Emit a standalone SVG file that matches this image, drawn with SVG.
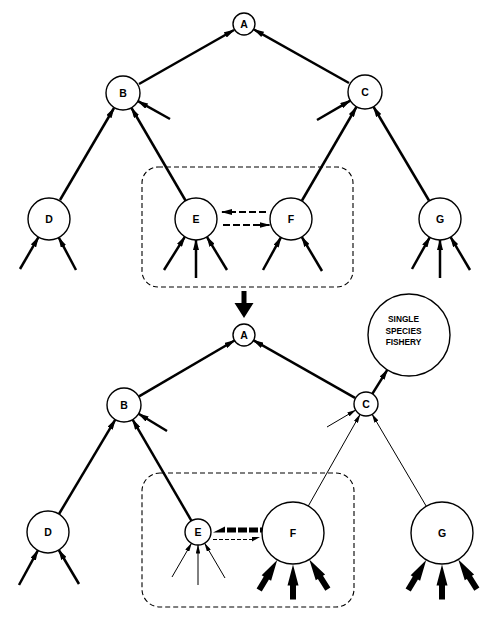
<svg xmlns="http://www.w3.org/2000/svg" width="500" height="628" viewBox="0 0 500 628">
<defs>
<style>
.n{fill:#fff;stroke:#000;stroke-width:1.4}
.t{font-family:"Liberation Sans",Arial,sans-serif;font-weight:bold;font-size:10.5px;text-anchor:middle;fill:#000}
.f{font-family:"Liberation Sans",Arial,sans-serif;font-weight:bold;font-size:8.3px;text-anchor:middle;fill:#000}
.k{stroke:#000;stroke-width:2.5;fill:none;marker-end:url(#ah)}
.th{stroke:#000;stroke-width:1;fill:none;marker-end:url(#ahs)}
.box{fill:none;stroke:#000;stroke-width:1.1;stroke-dasharray:5,3}
</style>
<marker id="ah" viewBox="0 0 11 6" refX="10" refY="3" markerWidth="11" markerHeight="6" markerUnits="userSpaceOnUse" orient="auto">
<path d="M0,0 L11,3 L0,6 Z" fill="#000"/>
</marker>
<marker id="ahs" viewBox="0 0 9 4.5" refX="8.5" refY="2.25" markerWidth="9" markerHeight="4.5" markerUnits="userSpaceOnUse" orient="auto">
<path d="M0,0 L9,2.25 L0,4.5 Z" fill="#000"/>
</marker>
<path id="fat" d="M0,0 L5.5,21 L3,21 L3,35 L-3,35 L-3,21 L-5.5,21 Z" fill="#000"/>
</defs>

<g id="connectors">
<line class="k" x1="139" y1="84" x2="234" y2="30"/>
<line class="k" x1="349" y1="83" x2="254" y2="29.5"/>
<line class="k" x1="60" y1="200" x2="114" y2="108"/>
<line class="k" x1="185.5" y1="200.5" x2="131.5" y2="108"/>
<line class="k" x1="170" y1="119" x2="138" y2="101.2"/>
<line class="k" x1="302" y1="200.5" x2="356.4" y2="107"/>
<line class="k" x1="429" y1="200.5" x2="373.6" y2="107"/>
<line class="k" x1="317" y1="120" x2="350.3" y2="100.6"/>
<line class="k" x1="20" y1="269" x2="38.5" y2="237.2"/>
<line class="k" x1="76" y1="270" x2="58.8" y2="237.6"/>
<line class="k" x1="164" y1="270" x2="184.8" y2="236.8"/>
<line class="k" x1="196" y1="278" x2="196" y2="240"/>
<line class="k" x1="227" y1="270" x2="206.9" y2="236.9"/>
<line class="k" x1="263" y1="270" x2="280.9" y2="237.4"/>
<line class="k" x1="322" y1="271" x2="301.8" y2="237"/>
<line class="k" x1="412" y1="269" x2="429.7" y2="237.3"/>
<line class="k" x1="440" y1="278" x2="440" y2="240"/>
<line class="k" x1="470" y1="270" x2="450.6" y2="237.1"/>
<line x1="266" y1="212" x2="222" y2="212" stroke="#000" stroke-width="2.2" stroke-dasharray="7,3" marker-end="url(#ah)"/>
<line x1="223" y1="225" x2="269.5" y2="225" stroke="#000" stroke-width="2.2" stroke-dasharray="7,3" marker-end="url(#ah)"/>
<rect class="box" x="142" y="167" width="211" height="120" rx="16"/>
<path d="M241.5,291 L246.5,291 L246.5,303 L253.5,303 L244,318 L234.5,303 L241.5,303 Z" fill="#000"/>
<line class="k" x1="139" y1="396.4" x2="234.5" y2="340.5"/>
<line class="k" x1="355" y1="397.8" x2="253.6" y2="340.4"/>
<line class="k" x1="372.3" y1="393.8" x2="387.3" y2="369.8"/>
<line class="k" x1="59" y1="514" x2="115.3" y2="419.6"/>
<line class="k" x1="191.5" y1="520.8" x2="132.6" y2="419.7"/>
<line class="k" x1="167" y1="431" x2="138.6" y2="413.8"/>
<line class="th" x1="308.3" y1="506" x2="360.1" y2="414.4"/>
<line class="th" x1="426.3" y1="506.3" x2="372.1" y2="414.3"/>
<line class="th" x1="327" y1="427" x2="355.7" y2="410.1"/>
<line class="k" x1="19" y1="585" x2="37.9" y2="550.4"/>
<line class="k" x1="79" y1="584" x2="58.8" y2="550"/>
<line class="th" x1="172" y1="577" x2="191.5" y2="543.3"/>
<line class="th" x1="198" y1="585" x2="198" y2="545"/>
<line class="th" x1="225" y1="578" x2="204.6" y2="543.2"/>
<use href="#fat" transform="translate(277.2,560) rotate(31)"/>
<use href="#fat" transform="translate(293,564.5)"/>
<use href="#fat" transform="translate(309.3,559.5) rotate(-32)"/>
<use href="#fat" transform="translate(426.2,560) rotate(31)"/>
<use href="#fat" transform="translate(442,564.5)"/>
<use href="#fat" transform="translate(458.3,559.5) rotate(-32)"/>
<line x1="227" y1="530" x2="262" y2="530" stroke="#000" stroke-width="5" stroke-dasharray="9,2"/>
<polygon points="213,532.5 225,526.5 225,532.5" fill="#000"/>
<line x1="213" y1="539.5" x2="253" y2="539.5" stroke="#000" stroke-width="1.2" stroke-dasharray="4,2"/>
<polygon points="252,537 260,537 252,541.5" fill="#000"/>
<rect class="box" x="142" y="473" width="212" height="134" rx="18"/>
</g>

<g id="nodeA1"><circle class="n" cx="244" cy="24" r="11"/><text class="t" x="244" y="27.8">A</text></g>
<g id="nodeB1"><circle class="n" cx="123" cy="93" r="17"/><text class="t" x="123" y="96.8">B</text></g>
<g id="nodeC1"><circle class="n" cx="365" cy="92" r="17"/><text class="t" x="365" y="95.8">C</text></g>
<g id="nodeD1"><circle class="n" cx="49" cy="219" r="21"/><text class="t" x="49" y="222.8">D</text></g>
<g id="nodeE1"><circle class="n" cx="196" cy="219" r="21"/><text class="t" x="196" y="222.8">E</text></g>
<g id="nodeF1"><circle class="n" cx="291" cy="219" r="21"/><text class="t" x="291" y="222.8">F</text></g>
<g id="nodeG1"><circle class="n" cx="440" cy="219" r="21"/><text class="t" x="440" y="222.8">G</text></g>

<g id="nodeA2"><circle class="n" cx="244" cy="335" r="11"/><text class="t" x="244" y="338.8">A</text></g>
<g id="nodeB2"><circle class="n" cx="124" cy="405" r="17"/><text class="t" x="124" y="408.8">B</text></g>
<g id="nodeC2"><circle class="n" cx="366" cy="404" r="12"/><text class="t" x="366" y="407.8">C</text></g>
<g id="nodeFishery"><circle class="n" cx="409" cy="335" r="41"/>
<text class="f" x="403.5" y="322">SINGLE</text>
<text class="f" x="403.5" y="333.5">SPECIES</text>
<text class="f" x="403.5" y="345">FISHERY</text></g>
<g id="nodeD2"><circle class="n" cx="48" cy="532" r="21"/><text class="t" x="48" y="535.8">D</text></g>
<g id="nodeE2"><circle class="n" cx="198" cy="532" r="13"/><text class="t" x="198" y="535.8">E</text></g>
<g id="nodeF2"><circle class="n" cx="293" cy="533" r="31"/><text class="t" x="293" y="536.8">F</text></g>
<g id="nodeG2"><circle class="n" cx="442" cy="533" r="31"/><text class="t" x="442" y="536.8">G</text></g>
</svg>
